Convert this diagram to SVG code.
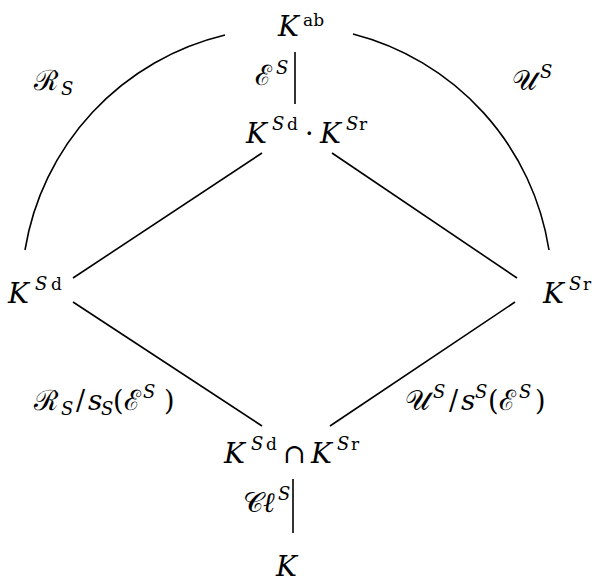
<svg xmlns="http://www.w3.org/2000/svg" width="595" height="582" viewBox="0 0 595 582">
<style>
.i,.r,.si,.sr,.s{font-family:'DejaVu Serif',serif;fill:#000}
.i{font-style:italic;font-size:28px}
.r{font-size:27px}
.si{font-style:italic;font-size:18px}
.sr{font-size:17px}
.s{font-size:28px;font-family:'Liberation Serif',serif}
.e{stroke:#000;stroke-width:1.6;fill:none}
</style>
<rect width="595" height="582" fill="#fff"/>
<g id="connectors">
<path class="e" d="M25,250 A265,265 0 0 1 225,35"/>
<path class="e" d="M353,34 A265,265 0 0 1 549,250"/>
<line class="e" x1="295" y1="52" x2="295" y2="104"/>
<line class="e" x1="73" y1="278" x2="262" y2="153"/>
<line class="e" x1="332" y1="153" x2="517" y2="278"/>
<line class="e" x1="73" y1="302" x2="262" y2="426"/>
<line class="e" x1="330" y1="426" x2="515" y2="302"/>
<line class="e" x1="293" y1="479" x2="293" y2="533"/>
</g>
<g id="n-kab"><text class="i" x="278" y="36">K</text><text class="sr" x="303" y="26">ab</text></g>
<g id="n-kdkr"><text class="i" x="246" y="143">K</text><text class="si" x="272" y="130">S</text><text class="sr" x="287" y="130">d</text><text class="r" x="305" y="143">·</text><text class="i" x="320" y="143">K</text><text class="si" x="346" y="130">S</text><text class="sr" x="359" y="130">r</text></g>
<g id="n-ksd"><text class="i" x="8" y="303">K</text><text class="si" x="35" y="290">S</text><text class="sr" x="51" y="290">d</text></g>
<g id="n-ksr"><text class="i" x="543" y="303">K</text><text class="si" x="569" y="290">S</text><text class="sr" x="583" y="290">r</text></g>
<g id="n-cap"><text class="i" x="224" y="463">K</text><text class="si" x="251" y="450">S</text><text class="sr" x="266" y="450">d</text><text class="r" x="283" y="463">∩</text><text class="i" x="311" y="463">K</text><text class="si" x="337" y="450">S</text><text class="sr" x="351" y="450">r</text></g>
<g id="n-k"><text class="i" x="276" y="576">K</text></g>
<g id="labels">
<text class="s" x="255" y="85">ℰ</text><text class="si" x="276" y="74">S</text>
<text class="s" x="243" y="512">𝒞</text><text class="i" x="263" y="512">ℓ</text><text class="si" x="278" y="500">S</text>
<text class="s" x="34" y="90">ℛ</text><text class="si" x="61" y="95">S</text>
<text class="s" x="512" y="90">𝒰</text><text class="si" x="540" y="78">S</text>
<text class="s" x="34" y="410">ℛ</text><text class="si" x="61" y="415">S</text><text class="r" x="76" y="410">/</text><text class="i" x="88" y="410">s</text><text class="si" x="101" y="415">S</text><text class="r" x="113" y="410">(</text><text class="s" x="124" y="410">ℰ</text><text class="si" x="143" y="398">S</text><text class="r" x="164" y="410">)</text>
<text class="s" x="405" y="410">𝒰</text><text class="si" x="433" y="398">S</text><text class="r" x="449" y="410">/</text><text class="i" x="461" y="410">s</text><text class="si" x="475" y="398">S</text><text class="r" x="488" y="410">(</text><text class="s" x="499" y="410">ℰ</text><text class="si" x="519" y="398">S</text><text class="r" x="535" y="410">)</text>
</g>
</svg>
